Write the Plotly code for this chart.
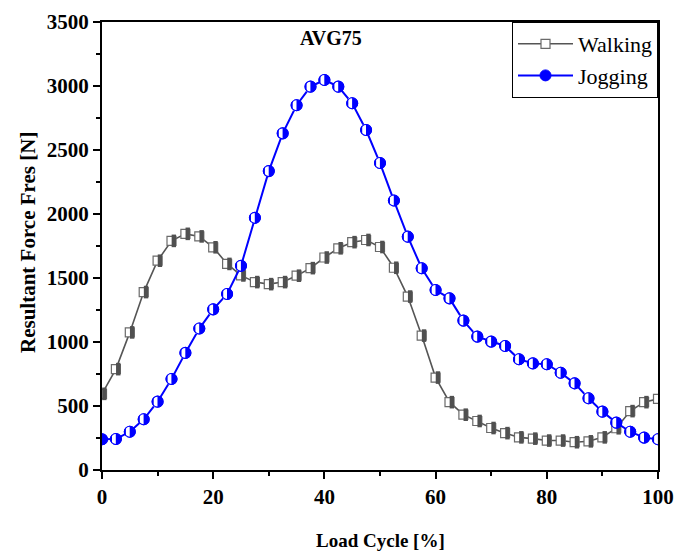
import plotly.graph_objects as go

load_cycle = [0, 2.5, 5, 7.5, 10, 12.5, 15, 17.5, 20, 22.5, 25, 27.5, 30, 32.5, 35, 37.5,
              40, 42.5, 45, 47.5, 50, 52.5, 55, 57.5, 60, 62.5, 65, 67.5, 70, 72.5, 75,
              77.5, 80, 82.5, 85, 87.5, 90, 92.5, 95, 97.5, 100]

walking = [595, 788, 1075, 1390, 1635, 1790, 1845, 1825, 1740, 1610, 1520, 1468, 1452,
           1468, 1518, 1577, 1660, 1732, 1780, 1797, 1742, 1580, 1355, 1050, 722, 530,
           432, 383, 328, 288, 255, 245, 230, 230, 217, 224, 255, 326, 460, 530, 556]

jogging = [240, 242, 299, 396, 534, 711, 915, 1105, 1255, 1375, 1595, 1970, 2335, 2630,
           2850, 2995, 3047, 2995, 2865, 2656, 2398, 2105, 1823, 1576, 1406, 1341, 1167,
           1042, 1003, 969, 865, 833, 826, 760, 677, 560, 456, 370, 299, 253, 240]

x_ticks = [0, 20, 40, 60, 80, 100]
y_ticks = [0, 500, 1000, 1500, 2000, 2500, 3000, 3500]

title_text = "AVG75"
x_title = "Load Cycle [%]"
y_title = "Resultant Force Fres [N]"

FONT = "Liberation Serif"
GRAY_LINE = "#555555"
GRAY_FILL = "#505050"
BLUE = "#0000ff"

fig = go.Figure()

# Walking: line + half-filled square markers
fig.add_trace(go.Scatter(
    x=load_cycle, y=walking, name="Walking", mode="lines+markers",
    line=dict(color=GRAY_LINE, width=1.6),
    marker=dict(symbol="square", size=9, color="white",
                line=dict(color="#6a6a6a", width=1.2)),
    legendgroup="w"))
fig.add_trace(go.Scatter(
    x=[v + 0.42 for v in load_cycle], y=walking, mode="markers", showlegend=False,
    hoverinfo="skip", legendgroup="w",
    marker=dict(symbol="line-ns", size=9, color=GRAY_FILL,
                line=dict(color=GRAY_FILL, width=4.4))))

# Jogging: line + half-filled circle markers
fig.add_trace(go.Scatter(
    x=load_cycle, y=jogging, name="Jogging", mode="lines+markers",
    line=dict(color=BLUE, width=2),
    marker=dict(symbol="circle", size=11, color=BLUE,
                line=dict(color=BLUE, width=1)),
    legendgroup="j"))
fig.add_trace(go.Scatter(
    x=[v - 0.36 for v in load_cycle], y=jogging, mode="markers", showlegend=False,
    hoverinfo="skip", legendgroup="j",
    marker=dict(symbol="line-ns", size=7.5, color="white",
                line=dict(color="white", width=3.8))))
fig.add_trace(go.Scatter(
    x=load_cycle, y=jogging, mode="markers", showlegend=False,
    hoverinfo="skip", legendgroup="j",
    marker=dict(symbol="circle-open", size=11, color=BLUE,
                line=dict(color=BLUE, width=1.1))))

fig.update_layout(
    width=675, height=552,
    margin=dict(l=102, r=17, t=22, b=82, autoexpand=False),
    paper_bgcolor="white", plot_bgcolor="white",
    font=dict(family=FONT, color="black"),
    showlegend=True,
    legend=dict(x=1, y=1, xanchor="right", yanchor="top",
                bgcolor="white", bordercolor="black", borderwidth=1,
                font=dict(family=FONT, size=22, color="black"),
                tracegroupgap=0, itemwidth=55),
    annotations=[
        dict(text="<b>" + title_text + "</b>", x=0.412, y=0.965,
             xref="paper", yref="paper", showarrow=False,
             xanchor="center", yanchor="middle",
             font=dict(family=FONT, size=20, color="black")),
        dict(text="<b>" + x_title + "</b>", x=0.5, y=-70, yshift=0,
             xref="paper", yref="paper", showarrow=False,
             xanchor="center", yanchor="middle",
             font=dict(family=FONT, size=19, color="black")),
    ],
)

# place axis-title annotations in pixel terms relative to the plot area
plot_h = 552 - 22 - 82
plot_w = 675 - 102 - 17
fig.layout.annotations[1].y = -(540 - 470) / plot_h
fig.add_annotation(text="<b>" + y_title + "</b>", x=-(102 - 28) / plot_w, y=(470 - 243) / plot_h,
                   xref="paper", yref="paper", showarrow=False, textangle=-90,
                   xanchor="center", yanchor="middle",
                   font=dict(family=FONT, size=21, color="black"))

fig.update_xaxes(
    range=[0, 100], tickvals=x_ticks,
    ticktext=["<b>%d</b>" % v for v in x_ticks],
    ticks="outside", ticklen=7, tickwidth=2, tickcolor="black",
    minor=dict(dtick=10, ticks="outside", ticklen=4, tickwidth=2, tickcolor="black", showgrid=False),
    showline=True, linecolor="black", linewidth=2, mirror=True,
    showgrid=False, zeroline=False, automargin=False,
    tickfont=dict(family=FONT, size=21, color="black"),
)
fig.update_yaxes(
    range=[0, 3500], tickvals=y_ticks,
    ticktext=["<b>%d</b>" % v for v in y_ticks],
    ticks="outside", ticklen=7, tickwidth=2, tickcolor="black",
    minor=dict(dtick=250, ticks="outside", ticklen=4, tickwidth=2, tickcolor="black", showgrid=False),
    showline=True, linecolor="black", linewidth=2, mirror=True,
    showgrid=False, zeroline=False, automargin=False,
    tickfont=dict(family=FONT, size=21, color="black"),
)

fig.write_html("out.html")
